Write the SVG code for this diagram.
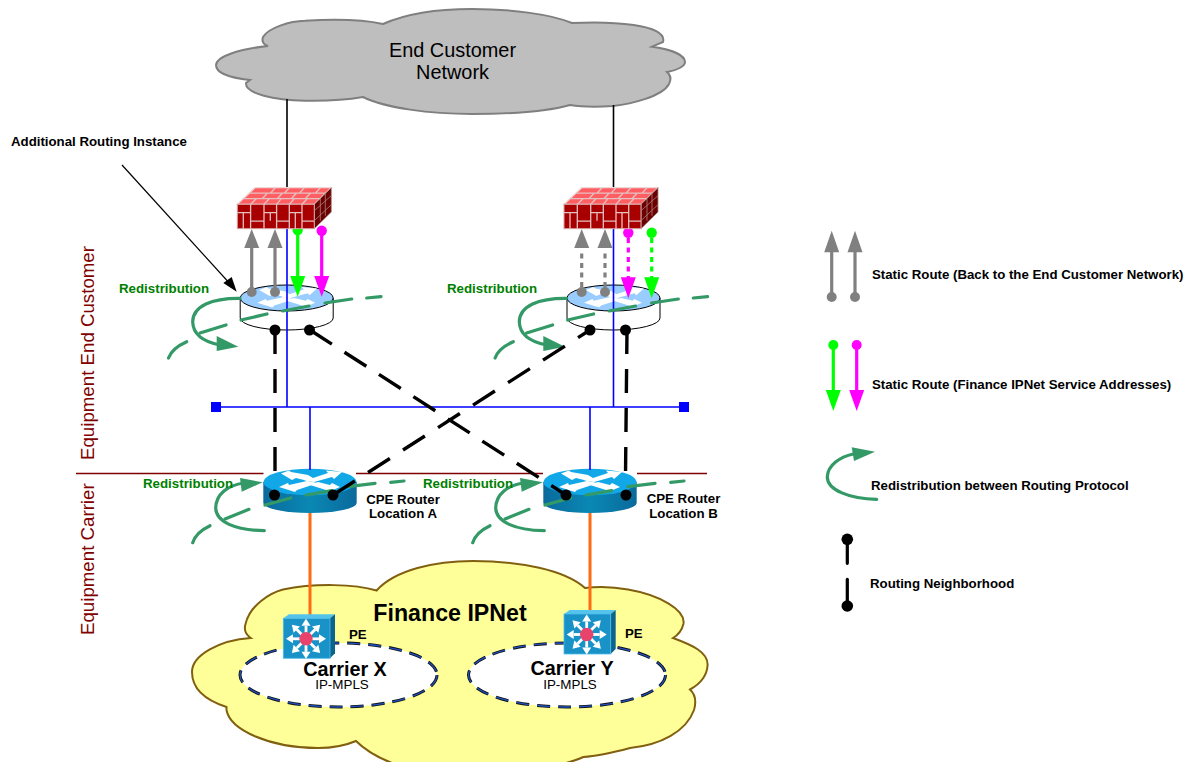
<svg xmlns="http://www.w3.org/2000/svg" width="1192" height="762" viewBox="0 0 1192 762">
<style>
text{font-family:"Liberation Sans",Arial,sans-serif}
.b{font-weight:bold;font-size:13.25px;fill:#000}
.g{font-weight:bold;font-size:13.3px;fill:#008000}
.v{font-size:18.7px;fill:#800000}
.m{text-anchor:middle}
.rd{fill:none;stroke:#339966;stroke-width:3.2;stroke-linecap:round}
.nb{fill:none;stroke:#000;stroke-width:3.4}
.bl{fill:none;stroke:#0000ff;stroke-width:1.6}
.st{stroke-width:3.2;fill:none}
.ds{stroke-dasharray:5 4.5}
.br{fill:none;stroke:#e6c0c0;stroke-width:1.3}
</style>
<defs>
<linearGradient id="cpeSide" x1="0" x2="1" y1="0" y2="0"><stop offset="0" stop-color="#0a6a9c"/><stop offset="0.5" stop-color="#0a88b4"/><stop offset="1" stop-color="#0a6a9c"/></linearGradient>
<g id="arrows">
<polygon points="-29,-8.5 -21,-11.5 -19,-10 -2,-7 8,-1 -2,-1 -14,-4 -18,-2" fill="#fff"/>
<polygon points="32,-10 16,-11.5 18,-9 -6,-1 4,0 22,-5 24,-3" fill="#fff"/>
<polygon points="-31,5 -15,10 -13,8 8,1 -3,-1 -21,3 -22,1" fill="#fff"/>
<polygon points="30,5 18,10 16,8 0,3 8,0 20,3 22,1" fill="#fff"/>
</g>
<g id="fw">
<polygon points="0,16.6 17.7,0 94,0 77,16.6" fill="#ff5f62" stroke="#eed8d8" stroke-width="1.3"/>
<polygon points="94,0 94,24.4 77,41 77,16.6" fill="#6b0000" stroke="#a88" stroke-width="0.8"/>
<rect x="0" y="16.6" width="77" height="24.4" fill="#a80000" stroke="#d8a8a8" stroke-width="1"/>
<path class="br" d="M13.3,16.6V41M26.7,16.6V41M39.3,16.6V41M52,16.6V41M64.7,16.6V41M0,25H13.3M26.7,25H39.3M52,25H64.7M13.3,33.5H26.7M39.3,33.5H52M64.7,33.5H77M6,25V41M33,25V33M58,25V41"/>
<path class="br" d="M12,5.5H88M6,11H83M13.3,16.6L19,11M26.7,16.6L32,11M39.3,16.6L44,11M52,16.6L57,11M64.7,16.6L70,11M25,11L30,5.5M40,11L45,5.5M54,11L59,5.5M68,11L73,5.5M33,5.5L38,0M47,5.5L52,0M62,5.5L67,0M78,5.5L83,0"/>
<path d="M83,11V33M88,5.5V28M77,23L94,8M77,33L94,17" fill="none" stroke="#b08080" stroke-width="0.8"/>
</g>
<g id="wr">
<path d="M-46.5,0V20A46.5,12 0 0 0 46.5,20V0" fill="#fff" stroke="#000" stroke-width="1"/>
<ellipse rx="46.5" ry="13" fill="#99ccff" stroke="#000" stroke-width="1"/>
<use href="#arrows" transform="scale(.95)"/>
</g>
<g id="cpe">
<path d="M-46.7,0V21A46.7,10 0 0 0 46.7,21V0Z" fill="url(#cpeSide)"/>
<ellipse rx="46.7" ry="13.3" fill="#12a8e8"/>
<use href="#arrows"/>
</g>
<g id="ray"><line x1="0" y1="0" x2="13" y2="0" stroke="#fff" stroke-width="2.8"/><polygon points="13,-4.5 20,0 13,4.5" fill="#fff"/></g>
<g id="sw">
<polygon points="0,0 5.7,-4 51.7,-4 46.7,0" fill="#55c4ec"/>
<polygon points="46.7,0 51.7,-4 51.7,35 46.7,40" fill="#0b648e"/>
<rect width="46.7" height="40" fill="#1992c8" stroke="#50bce8" stroke-width="0.8"/>
<g transform="translate(22.7,20.5)">
<use href="#ray"/><use href="#ray" transform="rotate(45)"/><use href="#ray" transform="rotate(90)"/><use href="#ray" transform="rotate(135)"/><use href="#ray" transform="rotate(180)"/><use href="#ray" transform="rotate(225)"/><use href="#ray" transform="rotate(270)"/><use href="#ray" transform="rotate(315)"/>
<circle r="6.7" fill="#e8436a"/>
</g>
</g>
<g id="redist">
<path class="rd" d="M240,298.3C212,298 193,306 192.7,321.7C193,335 205,342 220,345"/>
<polygon points="216.7,336 238.3,346.7 216.7,351" fill="#339966"/>
<path class="rd" d="M168.5,358C171,351 177,346 186.7,341.7M200,333L226,325M241,320L267,314M282.7,311L309,306M325,303L351.7,299M366.7,298L381,296.7"/>
</g>
<g id="redist2">
<path class="rd" d="M264.3,530.7C235,530 216,522 215.7,508C216,494 228,485 244,483"/>
<polygon points="240,478 262.7,482.3 241.7,491.7" fill="#339966"/>
<path class="rd" d="M192.7,542.7C195,535 201,530 210,525.7M225,519L249,509.3M265,505L290.7,498M306,495L331.7,490.7M348,486.7L375,483.3M390.7,482.3L404,481"/>
</g>
<g id="carrierEllipse">
<ellipse rx="98.5" ry="32" fill="#fff"/>
<ellipse rx="98.5" ry="32" fill="none" stroke="#111" stroke-width="3" stroke-dasharray="13 8"/>
<ellipse rx="98.5" ry="32" fill="none" stroke="#2050c0" stroke-width="1.3" stroke-dasharray="13 8"/>
</g>
</defs>

<g id="end-customer-network">
<path d="M383,24C410,12 445,9 472,9C510,9 550,14 572,23C610,21 668,24 663,42L652,46.7C668,49 685,54 685,62C685,66 678,70 667,72C672,76 671,80 669,84C662,97 630,104 613,106C598,107 582,107 570,105C545,112 510,114 472,114C430,114 385,108 363,97C340,101 320,101 305,100.7C275,100 245,94 246,83L250,80C230,78 216,73 216,65C217,56 240,49 268,46C262,44 262,40 263,37C268,28 290,21 305,20.7C335,19 365,20 383,24Z" fill="#bebebe" stroke="#7f7f7f" stroke-width="2"/>
<text x="452.5" y="57" class="m" font-size="19.9" fill="#000">End Customer</text>
<text x="452.5" y="79" class="m" font-size="19.9" fill="#000">Network</text>
</g>
<g id="finance-ipnet">
<path d="M376.6,590.5C395,570 435,561 473,561C520,561 565,570 585,588C600,586 615,587 628,589.5C660,595 686,610 683.4,624C682,630 678,635 673,638C692,645 708,652 707.6,665C707,676 700,684 690,689.5C696,695 696,703 694,710C686,732 660,745 630,748C615,752 600,756 583.4,757C560,768 500,775 456,775C415,775 375,760 356,741C342,747 330,748 318,748C270,748 230,730 226.5,710L226.5,707C205,700 192,688 192,672C192,655 220,640 250.7,638C245,634 244,629 245.5,624C250,605 270,593 283,589.5C315,583 355,584 376.6,590.5Z" fill="#ffff99" stroke="#806010" stroke-width="2"/>
<text x="450" y="621" class="m" font-size="23.2" font-weight="bold" fill="#000">Finance IPNet</text>
</g>
<g id="carrier-x">
<use href="#carrierEllipse" x="338.5" y="675"/>
</g>
<g id="carrier-y">
<use href="#carrierEllipse" x="567" y="675"/>
</g>

<g id="router-a"><use href="#wr" x="286.7" y="298"/></g>
<g id="router-b"><use href="#wr" x="613.5" y="298"/></g>
<g id="cpe-a"><use href="#cpe" x="310" y="482"/></g>
<g id="cpe-b"><use href="#cpe" x="590" y="482"/></g>

<g id="connectors">
<path d="M287,99V190M613.5,105V190" stroke="#000" stroke-width="1.6" fill="none"/>
<path d="M76,473.5H263.5M356,473.5H543M637,473.5H707" stroke="#800000" stroke-width="1.7" fill="none"/>
<path class="bl" d="M216,407H684M287,228V407M613.5,228V407M310,407V470M590,407V470"/>
<rect x="211" y="402" width="10" height="10" fill="#0000ff"/>
<rect x="679" y="402" width="10" height="10" fill="#0000ff"/>
<path d="M310,513V618M590,513V614" stroke="#ff6a13" stroke-width="3" fill="none"/>

<path d="M122,165L232,286" stroke="#000" stroke-width="1.2" fill="none"/>
<polygon points="236.7,291.7 223.3,283 231.7,277" fill="#000"/>

<g id="static-a">
<path d="M251.7,292V247M275,292V247" class="st" stroke="#808080"/>
<polygon points="244.2,248 251.7,229 259.2,248" fill="#808080"/>
<polygon points="267.5,248 275,229 282.5,248" fill="#808080"/>
<circle cx="251.7" cy="292" r="5" fill="#808080"/><circle cx="275" cy="292" r="5" fill="#808080"/>
<path d="M297.7,231V277" class="st" stroke="#00ff00"/>
<polygon points="290.2,276 297.7,296.7 305.2,276" fill="#00ff00"/><circle cx="297.7" cy="230" r="5.2" fill="#00ff00"/>
<path d="M321.7,231V277" class="st" stroke="#ff00ff"/>
<polygon points="314.2,276 321.7,296.7 329.2,276" fill="#ff00ff"/><circle cx="321.7" cy="230.7" r="5.2" fill="#ff00ff"/>
</g>
<g id="static-b">
<path d="M581.7,287V249M605,287V249" class="st ds" stroke="#808080"/>
<polygon points="574.2,248 581.7,229 589.2,248" fill="#808080"/>
<polygon points="597.5,248 605,229 612.5,248" fill="#808080"/>
<circle cx="581.7" cy="292" r="5" fill="#808080"/><circle cx="605" cy="292" r="5" fill="#808080"/>
<path d="M628.3,238V278" class="st ds" stroke="#ff00ff"/>
<polygon points="620.8,277.3 628.3,298.3 635.8,277.3" fill="#ff00ff"/><circle cx="628.3" cy="232.7" r="5.2" fill="#ff00ff"/>
<path d="M651.7,238V278" class="st ds" stroke="#00ff00"/>
<polygon points="644.2,277.3 651.7,298.3 659.2,277.3" fill="#00ff00"/><circle cx="651.7" cy="232.7" r="5.2" fill="#00ff00"/>
</g>

<use href="#redist"/>
<use href="#redist" x="326.6"/>
<use href="#redist2"/>
<use href="#redist2" x="280"/>

<g id="neighbors">
<path class="nb" stroke-dasharray="24 15" d="M275,330V475"/>
<path class="nb" stroke-dasharray="24 15" d="M627,330L625.5,475"/>
<path class="nb" stroke-dasharray="26 15" d="M310,330L566,495"/>
<path class="nb" stroke-dasharray="26 15.6" d="M333,495L590,330"/>
</g>
<circle cx="275" cy="330" r="5.5"/><circle cx="309.5" cy="330" r="5.5"/><circle cx="590" cy="330" r="5.5"/><circle cx="625.5" cy="330" r="5.5"/>
<circle cx="274.5" cy="495" r="5.5"/><circle cx="333" cy="495" r="5.5"/><circle cx="566" cy="495" r="5.5"/><circle cx="626" cy="495" r="5.5"/>
</g>

<g id="firewall-a"><use href="#fw" x="237.3" y="187.7"/></g>
<g id="firewall-b"><use href="#fw" x="564" y="187.7"/></g>
<g id="pe-x"><use href="#sw" x="283.3" y="618.3"/></g>
<g id="pe-y"><use href="#sw" x="564" y="614"/></g>

<g id="labels">
<text x="11" y="146" class="b">Additional Routing Instance</text>
<text x="119" y="293" class="g">Redistribution</text>
<text x="447" y="293" class="g">Redistribution</text>
<text x="143" y="488" class="g">Redistribution</text>
<text x="423" y="488" class="g">Redistribution</text>
<text x="403" y="504" class="b m">CPE Router</text>
<text x="403" y="518" class="b m">Location A</text>
<text x="683.5" y="503" class="b m">CPE Router</text>
<text x="683.5" y="518" class="b m">Location B</text>
<text x="349" y="639" class="b">PE</text>
<text x="625" y="638" class="b">PE</text>
<text x="345" y="676" class="m" font-size="19.8" font-weight="bold" fill="#000">Carrier X</text>
<text x="342" y="689" class="m" font-size="13.4" fill="#000">IP-MPLS</text>
<text x="572" y="675" class="m" font-size="19.8" font-weight="bold" fill="#000">Carrier Y</text>
<text x="570" y="689" class="m" font-size="13.4" fill="#000">IP-MPLS</text>
<text class="v" transform="translate(94,460) rotate(-90)">Equipment End Customer</text>
<text class="v" transform="translate(94,635) rotate(-90)">Equipment Carrier</text>
</g>

<g id="legend">
<path d="M831.7,297V251M855,297V251" class="st" stroke="#808080"/>
<polygon points="824.2,252.3 831.7,230.7 839.2,252.3" fill="#808080"/>
<polygon points="847.5,252.3 855,230.7 862.5,252.3" fill="#808080"/>
<circle cx="831.7" cy="297" r="5" fill="#808080"/><circle cx="855" cy="297" r="5" fill="#808080"/>
<text x="872" y="279" class="b">Static Route (Back to the End Customer Network)</text>
<path d="M833.3,345V391" class="st" stroke="#00ff00"/>
<polygon points="825.8,390 833.3,411 840.8,390" fill="#00ff00"/><circle cx="833.3" cy="345" r="5" fill="#00ff00"/>
<path d="M856.7,345V391" class="st" stroke="#ff00ff"/>
<polygon points="849.2,390 856.7,411 864.2,390" fill="#ff00ff"/><circle cx="856.7" cy="345" r="5" fill="#ff00ff"/>
<text x="872" y="389" class="b">Static Route (Finance IPNet Service Addresses)</text>
<path class="rd" d="M876.7,499.3C850,499 827,490 827.3,476.7C828,465 840,457 853.3,454"/>
<polygon points="851.7,447.3 875,451.7 854,461" fill="#339966"/>
<text x="871" y="490" class="b">Redistribution between Routing Protocol</text>
<path d="M847.3,539V563.3M847.3,579.3V606" stroke="#000" stroke-width="3.2" stroke-linecap="round" fill="none"/>
<circle cx="847.3" cy="539.3" r="5.8"/><circle cx="847.3" cy="606" r="5.8"/>
<text x="870" y="588" class="b">Routing Neighborhood</text>
</g>
</svg>
